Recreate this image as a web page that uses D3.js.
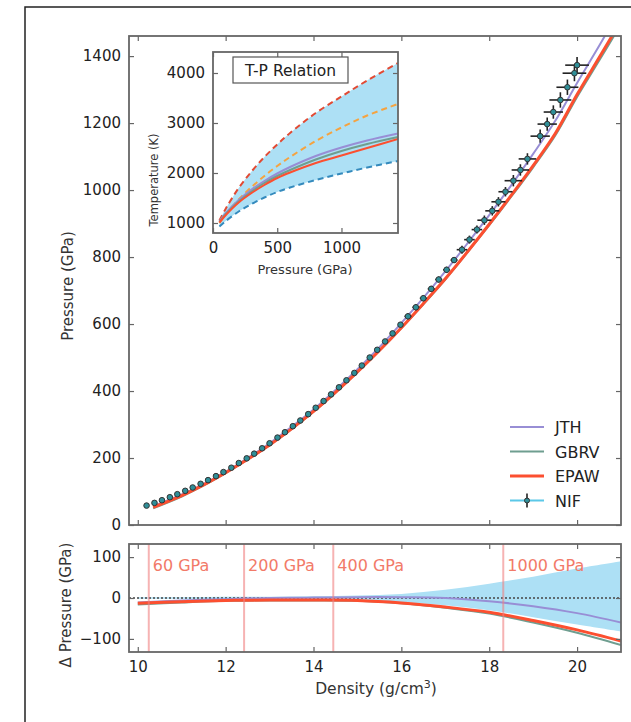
<!DOCTYPE html>
<html>
<head>
<meta charset="utf-8">
<script src="https://cdnjs.cloudflare.com/ajax/libs/d3/7.8.5/d3.min.js"></script>
<style>
  body { margin: 0; background: #fff; }
  svg text { font-family: "DejaVu Sans", sans-serif; }
</style>
</head>
<body>
<div id="chart"></div>
<script>
// NIF data (density g/cm3, pressure GPa, error bars)
const nifRho = [10.2, 10.38, 10.55, 10.73, 10.9, 11.08, 11.25, 11.43, 11.6, 11.78, 11.95, 12.13, 12.3, 12.48, 12.65,
  12.83, 13.0, 13.18, 13.35, 13.53, 13.7, 13.88, 14.05, 14.23, 14.4, 14.58, 14.75, 14.93, 15.1, 15.28, 15.45, 15.63,
  15.8, 15.98, 16.15, 16.33, 16.5, 16.68, 16.85, 17.03, 17.2, 17.38, 17.55, 17.72, 17.89, 18.07, 18.21, 18.37, 18.55,
  18.71, 18.87, 19.16, 19.32, 19.46, 19.62, 19.78, 19.94, 20.0];
const nifP = [58, 66, 74, 83, 92, 102, 112, 123, 134, 146, 158, 171, 185, 199, 213, 229, 244, 261, 277, 295, 312, 331,
  350, 370, 390, 411, 432, 454, 476, 500, 523, 548, 572, 598, 623, 650, 677, 705, 733, 762, 791, 822, 852, 882, 910,
  938, 965, 995, 1028, 1060, 1093, 1161, 1197, 1233, 1269, 1307, 1349, 1373];
const nifErrRho = [0.02, 0.02, 0.02, 0.02, 0.02, 0.02, 0.02, 0.02, 0.02, 0.02, 0.02, 0.02, 0.02, 0.03, 0.03, 0.03, 0.03,
  0.03, 0.03, 0.03, 0.03, 0.03, 0.03, 0.03, 0.03, 0.05, 0.05, 0.05, 0.05, 0.05, 0.05, 0.05, 0.05, 0.05, 0.08, 0.08, 0.08,
  0.08, 0.08, 0.08, 0.08, 0.12, 0.12, 0.12, 0.16, 0.16, 0.16, 0.16, 0.2, 0.2, 0.2, 0.22, 0.22, 0.22, 0.25, 0.25, 0.27, 0.27];
const nifErrP = [2, 2, 2, 2, 2, 2, 2, 2, 2, 2, 2, 2, 2, 4, 4, 4, 4, 4, 4, 4, 4, 4, 4, 4, 4, 6, 6, 6, 6, 6, 6, 6, 6, 6, 9, 9,
  9, 9, 9, 9, 9, 12, 12, 12, 14, 14, 14, 14, 17, 17, 17, 20, 20, 20, 23, 23, 24, 24];

// model EOS curves (main panel)
const modelRho = [10.35, 11, 11.5, 12, 12.5, 13, 13.5, 14, 14.5, 15, 15.5, 16, 16.5, 17, 17.5, 18, 18.5, 19, 19.5, 20, 20.5, 21];
const jthP = [56, 91, 123, 159, 200, 244, 293, 345, 403, 465, 531, 603, 678, 757, 840, 925, 1014, 1108, 1206, 1320, 1430, 1545];
const gbrvP = [50, 85, 118, 155, 195, 238, 286, 338, 395, 456, 520, 588, 659, 733, 813, 895, 980, 1068, 1162, 1278, 1386, 1495];
const epawP = [53, 88, 120, 156, 196, 239, 287, 339, 396, 457, 521, 589, 661, 735, 815, 898, 984, 1073, 1168, 1285, 1395, 1505];

// pressure difference panel
const diffRho = [10, 11, 12, 13, 14, 15, 16, 17, 18, 19, 20, 21];
const jthDiff = [-11, -6, -3, 0, 1, 2, 2, 0, -8, -20, -37, -60];
const gbrvDiff = [-16, -11, -7, -6, -6, -7, -13, -24, -38, -60, -85, -115];
const epawDiff = [-13, -9, -6, -5, -5, -6, -12, -22, -35, -55, -78, -105];
const bandUpper = [2, 2, 3, 3, 4, 6, 10, 20, 35, 52, 72, 90];
const bandLower = [-2, -2, -3, -3, -4, -6, -10, -18, -30, -47, -65, -82];
const markRho = [10.25, 12.42, 14.45, 18.32];
const markLabels = ["60 GPa", "200 GPa", "400 GPa", "1000 GPa"];

// inset T-P relation
const tpP = [50, 100, 200, 300, 400, 500, 600, 800, 1000, 1200, 1440];
const tpUpper = [1050, 1290, 1700, 2030, 2320, 2570, 2800, 3200, 3530, 3850, 4200];
const tpMid = [1000, 1180, 1470, 1720, 1940, 2140, 2320, 2640, 2910, 3150, 3380];
const tpJTH = [1030, 1200, 1460, 1670, 1840, 1990, 2120, 2340, 2510, 2650, 2790];
const tpGBRV = [1020, 1180, 1430, 1630, 1800, 1940, 2060, 2270, 2440, 2580, 2720];
const tpEPAW = [1010, 1160, 1410, 1600, 1760, 1900, 2010, 2200, 2350, 2500, 2680];
const tpLower = [930, 1040, 1230, 1380, 1510, 1620, 1710, 1860, 1990, 2110, 2240];

const legendNames = ["JTH", "GBRV", "EPAW", "NIF"];

const cJTH = "#988ed5", cGBRV = "#6f9e90", cEPAW = "#fc4f30", cNIF = "#5bc8e8";
const cBand = "#ade0f5", cSpine = "#666", cMark = "#f27a68";

const W = 631, H = 722;
const svg = d3.select("#chart").append("svg").attr("width", W).attr("height", H);
svg.append("rect").attr("width", W).attr("height", H).attr("fill", "#fff");

// outer frame (partly cut off)
svg.append("path").attr("d", "M25,722 L25,7 L631,7").attr("fill", "none").attr("stroke", "#222").attr("stroke-width", 1.5);

const x = d3.scaleLinear().domain([9.8, 21]).range([129, 621]);
const y = d3.scaleLinear().domain([0, 1460]).range([525, 36]);
const yd = d3.scaleLinear().domain([-132, 132]).range([652, 544]);
const xi = d3.scaleLinear().domain([0, 1440]).range([213, 398]);
const yi = d3.scaleLinear().domain([800, 4420]).range([233, 52]);

function frame(xs, ys, xt, yt, fs, showX, showY) {
  const g = svg.append("g");
  const [x0, x1] = xs.range(), [y0, y1] = ys.range();
  const b = g.append("g").attr("transform", `translate(0,${y0})`)
    .call(d3.axisBottom(xs).tickValues(xt).tickSizeInner(-5).tickSizeOuter(0).tickPadding(9)
      .tickFormat(showX ? d3.format("d") : ""));
  const t = g.append("g").attr("transform", `translate(0,${y1})`)
    .call(d3.axisTop(xs).tickValues(xt).tickSizeInner(-5).tickSizeOuter(0).tickFormat(""));
  const l = g.append("g").attr("transform", `translate(${x0},0)`)
    .call(d3.axisLeft(ys).tickValues(yt).tickSizeInner(-5).tickSizeOuter(0).tickPadding(8)
      .tickFormat(showY ? (d => d3.format("d")(d).replace("-", "\u2212")) : ""));
  const r = g.append("g").attr("transform", `translate(${x1},0)`)
    .call(d3.axisRight(ys).tickValues(yt).tickSizeInner(-5).tickSizeOuter(0).tickFormat(""));
  [b, t, l, r].forEach(a => {
    a.select(".domain").remove();
    a.selectAll("line").attr("stroke", cSpine).attr("stroke-width", 1.2);
    a.selectAll("text").attr("font-size", fs).attr("fill", "#222").style("font-family", "DejaVu Sans");
  });
  g.append("rect").attr("x", x0).attr("y", y1).attr("width", x1 - x0).attr("height", y0 - y1)
    .attr("fill", "none").attr("stroke", cSpine).attr("stroke-width", 1.8);
}

// ---------- main panel ----------
const clipMain = svg.append("clipPath").attr("id", "clipMain").append("rect")
  .attr("x", 129).attr("y", 36).attr("width", 492).attr("height", 489);
const gm = svg.append("g").attr("clip-path", "url(#clipMain)");
const line = d3.line().curve(d3.curveCatmullRom);

[[jthP, cJTH, 2], [gbrvP, cGBRV, 2], [epawP, cEPAW, 3]].forEach(([vals, c, w]) => {
  gm.append("path").attr("d", line(modelRho.map((r, i) => [x(r), y(vals[i])])))
    .attr("fill", "none").attr("stroke", c).attr("stroke-width", w);
});

const pts = nifRho.map((r, i) => ({ r, p: nifP[i], er: nifErrRho[i], ep: nifErrP[i] }));
const ge = gm.append("g").attr("stroke", "#222").attr("stroke-width", 1.6);
pts.forEach(d => {
  ge.append("line").attr("x1", x(d.r - d.er)).attr("x2", x(d.r + d.er)).attr("y1", y(d.p)).attr("y2", y(d.p));
  ge.append("line").attr("x1", x(d.r)).attr("x2", x(d.r)).attr("y1", y(d.p - d.ep)).attr("y2", y(d.p + d.ep));
});
gm.append("g").selectAll("circle").data(pts).join("circle")
  .attr("cx", d => x(d.r)).attr("cy", d => y(d.p)).attr("r", 2.8)
  .attr("fill", "#2f8f98").attr("stroke", "#333").attr("stroke-width", 1);

frame(x, y, d3.range(10, 21, 2), d3.range(0, 1401, 200), "15px", false, true);

svg.append("text").attr("transform", "translate(73,286) rotate(-90)").attr("text-anchor", "middle")
  .attr("font-size", "15px").attr("fill", "#333").text("Pressure (GPa)");

// legend
const lg = svg.append("g");
legendNames.forEach((n, i) => {
  const ly = 427 + i * 24.5;
  const c = [cJTH, cGBRV, cEPAW, cNIF][i];
  lg.append("line").attr("x1", 510).attr("x2", 544).attr("y1", ly).attr("y2", ly)
    .attr("stroke", c).attr("stroke-width", i === 2 ? 3 : 2);
  if (n === "NIF") {
    lg.append("line").attr("x1", 527).attr("x2", 527).attr("y1", ly - 7).attr("y2", ly + 7)
      .attr("stroke", "#222").attr("stroke-width", 1.6);
    lg.append("circle").attr("cx", 527).attr("cy", ly).attr("r", 2.5).attr("fill", "#2f8f98").attr("stroke", "#333");
  }
  lg.append("text").attr("x", 555).attr("y", ly + 6).attr("font-size", "16px").attr("fill", "#222").text(n);
});

// ---------- inset ----------
svg.append("rect").attr("x", 213).attr("y", 52).attr("width", 185).attr("height", 181).attr("fill", "#fff");
const clipIn = svg.append("clipPath").attr("id", "clipIn").append("rect")
  .attr("x", 213).attr("y", 52).attr("width", 185).attr("height", 181);
const gi = svg.append("g").attr("clip-path", "url(#clipIn)");
gi.append("path").attr("d", d3.area().curve(d3.curveCatmullRom)
    .x((d, i) => xi(tpP[i])).y0((d, i) => yi(tpLower[i])).y1((d, i) => yi(tpUpper[i]))(tpP))
  .attr("fill", cBand);
const iline = d3.line().curve(d3.curveCatmullRom);
[[tpUpper, "#e24a33", true], [tpMid, "#f5a340", true], [tpLower, "#348abd", true],
 [tpJTH, cJTH, false], [tpGBRV, cGBRV, false], [tpEPAW, cEPAW, false]].forEach(([vals, c, dash]) => {
  gi.append("path").attr("d", iline(tpP.map((p, i) => [xi(p), yi(vals[i])])))
    .attr("fill", "none").attr("stroke", c).attr("stroke-width", 2)
    .attr("stroke-dasharray", dash ? "6,4" : null);
});
frame(xi, yi, [0, 500, 1000], [1000, 2000, 3000, 4000], "15px", true, true);
svg.append("text").attr("transform", "translate(158,180) rotate(-90)").attr("text-anchor", "middle")
  .attr("font-size", "11.5px").attr("fill", "#333").text("Temperature (K)");
svg.append("text").attr("x", 305).attr("y", 274).attr("text-anchor", "middle")
  .attr("font-size", "13px").attr("fill", "#333").text("Pressure (GPa)");
svg.append("rect").attr("x", 233).attr("y", 57).attr("width", 115).attr("height", 26)
  .attr("fill", "#fff").attr("stroke", "#555").attr("stroke-width", 1.2);
svg.append("text").attr("x", 290.5).attr("y", 76).attr("text-anchor", "middle")
  .attr("font-size", "15.5px").attr("fill", "#222").text("T-P Relation");

// ---------- difference panel ----------
const clipD = svg.append("clipPath").attr("id", "clipD").append("rect")
  .attr("x", 129).attr("y", 544).attr("width", 492).attr("height", 108);
const gd = svg.append("g").attr("clip-path", "url(#clipD)");
gd.append("path").attr("d", d3.area().curve(d3.curveCatmullRom)
    .x((d, i) => x(diffRho[i])).y0((d, i) => yd(bandLower[i])).y1((d, i) => yd(bandUpper[i]))(diffRho))
  .attr("fill", cBand);
gd.append("line").attr("x1", 129).attr("x2", 621).attr("y1", yd(0)).attr("y2", yd(0))
  .attr("stroke", "#444").attr("stroke-width", 1.5).attr("stroke-dasharray", "2,2");
[[jthDiff, cJTH, 2], [gbrvDiff, cGBRV, 2], [epawDiff, cEPAW, 3]].forEach(([vals, c, w]) => {
  gd.append("path").attr("d", line(diffRho.map((r, i) => [x(r), yd(vals[i])])))
    .attr("fill", "none").attr("stroke", c).attr("stroke-width", w);
});
markRho.forEach((r, i) => {
  gd.append("line").attr("x1", x(r)).attr("x2", x(r)).attr("y1", 544).attr("y2", 652)
    .attr("stroke", "#f08080").attr("stroke-opacity", 0.6).attr("stroke-width", 2);
  svg.append("text").attr("x", x(r) + 4).attr("y", 571).attr("font-size", "16px")
    .attr("fill", cMark).text(markLabels[i]);
});
frame(x, yd, d3.range(10, 21, 2), [-100, 0, 100], "15px", true, true);

svg.append("text").attr("transform", "translate(71,605) rotate(-90)").attr("text-anchor", "middle")
  .attr("font-size", "15px").attr("fill", "#333").text("\u0394 Pressure (GPa)");
const xl = svg.append("text").attr("x", 376).attr("y", 694).attr("text-anchor", "middle")
  .attr("font-size", "15.5px").attr("fill", "#333");
xl.append("tspan").text("Density (g/cm");
xl.append("tspan").attr("dy", -6).attr("font-size", "11px").text("3");
xl.append("tspan").attr("dy", 6).text(")");
</script>
</body>
</html>
